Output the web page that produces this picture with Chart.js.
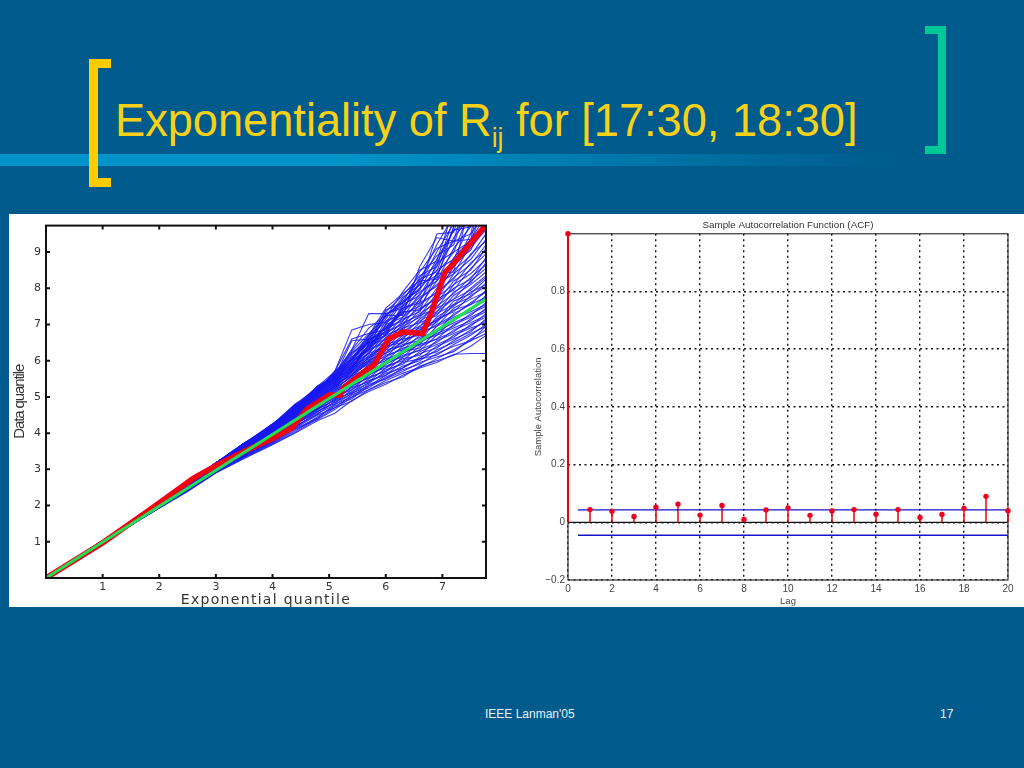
<!DOCTYPE html>
<html>
<head>
<meta charset="utf-8">
<script src="https://cdn.jsdelivr.net/npm/chart.js@4"></script>
<style>
  html, body { margin: 0; padding: 0; }
  body { width: 1024px; height: 768px; background: #005b8d; position: relative; overflow: hidden; font-family: "Liberation Sans", Arial, sans-serif; }
  .abs { position: absolute; }
  #stripe { left: 0; top: 154px; width: 900px; height: 12px; background: linear-gradient(to right, #0096cc 0%, #0096cc 35%, #005b8d 100%); }
  #panel { left: 9px; top: 214px; width: 1015px; height: 393px; background: #fff; }
  #title { left: 115px; top: 93px; color: #f7d117; font-size: 46px; white-space: nowrap; transform-origin: left top; transform: scaleX(0.982); }
  #title sub { font-size: 27px; vertical-align: -11px; line-height: 0; }
  .foot { color: #e8f0f5; font-size: 12px; top: 707px; }
  canvas { position: absolute; }
</style>
</head>
<body>
<div class="abs" id="stripe"></div>
<div class="abs" style="left:89px;top:59px;width:9px;height:128px;background:#ffcc00"></div>
<div class="abs" style="left:89px;top:59px;width:22px;height:9px;background:#ffcc00"></div>
<div class="abs" style="left:89px;top:178px;width:22px;height:9px;background:#ffcc00"></div>
<div class="abs" style="left:938px;top:26px;width:8px;height:128px;background:#00c896"></div>
<div class="abs" style="left:925px;top:26px;width:21px;height:8px;background:#00c896"></div>
<div class="abs" style="left:925px;top:146px;width:21px;height:8px;background:#00c896"></div>
<div class="abs" id="title">Exponentiality of R<sub>ij</sub> for [17:30, 18:30]</div>
<div class="abs" id="panel"></div>
<canvas id="qqChart" width="491" height="395" style="left:9px;top:214px"></canvas>
<canvas id="acfChart" width="524" height="393" style="left:500px;top:214px"></canvas>
<div class="abs foot" style="left:485px">IEEE Lanman'05</div>
<div class="abs foot" style="left:940px">17</div>

<script>
// left plot
const quantiles = [0, 1, 2, 2.5, 3, 3.5, 4, 4.4, 4.8, 5.1, 5.4, 5.7, 6, 6.3, 6.6, 6.9, 7.2, 7.5, 7.77];
const blueRuns = [
  [0,.98,1.93,2.39,2.9,3.3,3.68,4.0,4.35,4.55,4.9,5.15,5.35,5.6,5.8,5.95,6.18,6.2,6.2],
  [0,.98,1.93,2.4,2.91,3.32,3.7,4.02,4.4,4.7,4.88,5.2,5.4,5.55,5.85,6.0,6.15,6.4,6.7],
  [0,.99,1.94,2.41,2.92,3.34,3.74,4.1,4.38,4.65,5.0,5.2,5.45,5.65,5.82,6.05,6.3,6.55,6.75],
  [0,.99,1.94,2.41,2.93,3.35,3.72,4.06,4.45,4.75,4.95,5.3,5.5,5.7,5.95,6.1,6.25,6.6,6.85],
  [0,.99,1.95,2.42,2.93,3.36,3.76,4.14,4.5,4.7,5.05,5.25,5.55,5.75,5.9,6.2,6.4,6.55,6.95],
  [0,.99,1.95,2.42,2.94,3.38,3.78,4.12,4.42,4.8,5.0,5.35,5.5,5.8,6.05,6.15,6.45,6.7,7.0],
  [0,1,1.95,2.43,2.94,3.37,3.8,4.18,4.55,4.78,5.1,5.3,5.6,5.85,6.0,6.3,6.5,6.75,6.95],
  [0,1,1.96,2.43,2.95,3.4,3.78,4.15,4.6,4.85,5.08,5.4,5.65,5.8,6.1,6.25,6.55,6.85,7.1],
  [0,1,1.96,2.44,2.95,3.42,3.84,4.2,4.52,4.88,5.15,5.38,5.7,5.95,6.05,6.4,6.6,6.8,7.15],
  [0,1,1.96,2.44,2.96,3.41,3.82,4.24,4.62,4.82,5.2,5.45,5.6,5.98,6.2,6.35,6.7,6.9,7.05],
  [0,1,1.97,2.45,2.97,3.44,3.86,4.22,4.65,4.92,5.12,5.5,5.75,5.9,6.25,6.45,6.65,7.0,7.2],
  [0,1,1.97,2.45,2.97,3.43,3.88,4.26,4.58,4.95,5.25,5.42,5.8,6.05,6.15,6.55,6.75,6.95,7.3],
  [0,1,1.98,2.46,2.98,3.46,3.85,4.28,4.68,4.9,5.28,5.55,5.7,6.1,6.3,6.5,6.85,7.05,7.25],
  [0,1,1.98,2.47,2.98,3.45,3.9,4.25,4.7,5.0,5.2,5.6,5.85,6.0,6.4,6.6,6.8,7.15,7.35],
  [0,1,1.99,2.48,2.99,3.47,3.92,4.3,4.66,5.02,5.32,5.52,5.9,6.15,6.28,6.7,6.9,7.1,7.45],
  [0,1,2,2.5,3,3.46,3.9,4.34,4.72,4.96,5.35,5.65,5.8,6.2,6.45,6.6,7.0,7.2,7.4],
  [0,1,2,2.5,3,3.48,3.94,4.32,4.75,5.05,5.3,5.7,5.95,6.1,6.5,6.75,6.95,7.3,7.5],
  [0,1,2,2.5,3,3.5,3.96,4.36,4.7,5.08,5.4,5.6,6.0,6.25,6.35,6.8,7.05,7.25,7.6],
  [0,1,2,2.5,3.01,3.49,3.98,4.38,4.78,5.0,5.42,5.75,5.9,6.3,6.55,6.7,7.15,7.35,7.55],
  [0,1,2,2.51,3.01,3.5,3.95,4.4,4.8,5.1,5.35,5.8,6.05,6.2,6.6,6.85,7.1,7.45,7.7],
  [0,1,2,2.51,3.01,3.52,4.0,4.38,4.82,5.14,5.45,5.68,6.1,6.35,6.45,6.95,7.2,7.4,7.8],
  [0,1,2,2.51,3.02,3.51,3.98,4.42,4.76,5.16,5.5,5.82,6.0,6.4,6.65,6.8,7.3,7.55,7.75],
  [0,1.01,2,2.51,3.02,3.53,4.02,4.44,4.85,5.1,5.52,5.85,6.15,6.3,6.7,7.0,7.25,7.6,7.9],
  [0,1.01,2.01,2.52,3.02,3.54,4.0,4.46,4.88,5.2,5.45,5.9,6.2,6.45,6.55,7.1,7.4,7.55,7.95],
  [0,1.01,2.01,2.52,3.03,3.55,4.04,4.44,4.84,5.22,5.58,5.8,6.25,6.5,6.8,6.95,7.45,7.7,7.9],
  [0,1.01,2.01,2.52,3.03,3.54,4.06,4.48,4.9,5.18,5.6,5.95,6.1,6.55,6.75,7.15,7.35,7.8,8.05],
  [0,1.01,2.01,2.52,3.03,3.56,4.03,4.5,4.92,5.25,5.55,5.98,6.3,6.4,6.85,7.05,7.55,7.75,8.15],
  [0,1.01,2.01,2.53,3.04,3.57,4.08,4.48,4.86,5.28,5.65,5.9,6.35,6.6,6.7,7.2,7.5,7.9,8.1],
  [0,1.01,2.02,2.53,3.04,3.56,4.06,4.52,4.95,5.3,5.62,6.02,6.2,6.65,6.9,7.1,7.65,7.85,8.25],
  [0,1.01,2.02,2.53,3.05,3.58,4.1,4.54,4.98,5.24,5.7,5.95,6.4,6.5,6.95,7.3,7.55,8.0,8.35],
  [0,1.01,2.02,2.53,3.05,3.6,4.08,4.5,4.94,5.32,5.68,6.08,6.3,6.7,6.85,7.35,7.7,7.95,8.3],
  [0,1.01,2.02,2.54,3.05,3.58,4.12,4.56,5.0,5.35,5.6,6.1,6.45,6.6,7.05,7.25,7.8,8.1,8.45],
  [0,1.02,2.02,2.54,3.06,3.6,4.1,4.58,5.02,5.28,5.75,6.0,6.5,6.75,6.95,7.45,7.7,8.2,8.55],
  [0,1.02,2.02,2.54,3.06,3.62,4.14,4.55,4.98,5.38,5.72,6.15,6.35,6.8,7.1,7.35,7.9,8.15,8.7],
  [0,1.02,2.03,2.54,3.07,3.61,4.12,4.6,5.05,5.4,5.8,6.05,6.55,6.7,7.15,7.5,7.85,8.3,8.65],
  [0,1.02,2.03,2.55,3.07,3.63,4.16,4.62,5.08,5.34,5.78,6.2,6.4,6.9,7.05,7.6,8.0,8.25,8.85],
  [0,1.02,2.03,2.55,3.08,3.62,4.14,4.58,5.1,5.42,5.7,6.25,6.6,6.85,7.25,7.45,8.1,8.4,8.8],
  [0,1.02,2.03,2.55,3.08,3.64,4.18,4.64,5.06,5.45,5.85,6.1,6.65,6.95,7.2,7.7,7.95,8.55,8.95],
  [0,1.02,2.03,2.55,3.09,3.65,4.16,4.66,5.12,5.38,5.88,6.3,6.5,7.0,7.3,7.6,8.2,8.5,9.1],
  [0,1.02,2.03,2.56,3.09,3.64,4.2,4.62,5.14,5.5,5.8,6.35,6.7,6.9,7.4,7.75,8.1,8.7,9.05],
  [0,1.02,2.04,2.56,3.1,3.66,4.18,4.68,5.1,5.52,5.92,6.2,6.75,7.05,7.25,7.85,8.3,8.65,9.2],
  [0,1.02,2.04,2.56,3.1,3.67,4.22,4.7,5.16,5.46,5.95,6.4,6.6,7.1,7.45,7.7,8.4,8.8,9.35],
  [0,1.02,2.04,2.56,3.11,3.66,4.2,4.65,5.18,5.55,5.85,6.45,6.8,7.0,7.55,7.9,8.25,8.95,9.3],
  [0,1.03,2.04,2.57,3.11,3.68,4.22,4.72,5.2,5.58,6.0,6.3,6.85,7.15,7.35,8.0,8.5,8.9,9.5],
  [0,1.03,2.04,2.57,3.12,3.69,4.24,4.74,5.15,5.6,6.02,6.5,6.7,7.2,7.6,7.85,8.6,9.1,9.65],
  [0,1.03,2.04,2.57,3.12,3.68,4.23,4.7,5.22,5.5,6.05,6.55,6.9,7.1,7.7,8.1,8.4,9.2,9.6],
  [0,1.03,2.05,2.57,3.13,3.7,4.05,4.5,5.05,5.35,5.8,6.4,6.95,7.3,7.5,8.2,8.7,9.05,9.9],
  [0,1.03,2.05,2.58,3.13,3.71,4.15,4.55,5.1,5.5,5.75,6.6,6.8,7.35,7.75,8.05,8.85,9.35,10],
  [0,1.03,2.05,2.58,3.14,3.6,4.2,4.62,4.95,5.56,5.9,6.3,7.0,7.2,7.85,8.3,8.6,9.5,10.1],
  [0,1.03,2.05,2.58,3.14,3.72,4.1,4.68,5.2,5.4,6.05,6.5,6.9,7.45,7.65,8.4,9.0,9.3,10.4],
  [0,1.03,2.05,2.58,3.15,3.55,4.25,4.45,5.15,5.6,5.7,6.45,6.7,7.5,7.9,8.2,9.1,9.7,10.6],
  [0,1.03,2.05,2.58,3.15,3.65,4.0,4.72,5.0,5.3,6.1,6.3,7.1,7.3,8.0,8.5,8.8,9.8,10.9],
  [0,1.03,2.05,2.58,3.16,3.72,4.2,4.6,5.28,5.45,5.95,6.6,6.75,7.55,7.8,8.6,9.3,9.5,11.2],
  [0,1.03,2.05,2.58,3.16,3.62,4.12,4.75,5.05,5.65,5.85,6.2,7.0,7.6,8.1,8.35,9.4,10,11.5],
  [0,1.03,2.05,2.58,3.17,3.7,4.25,4.5,5.25,5.4,6.1,6.55,6.9,7.4,8.15,8.7,9.0,10.2,12],
  [0,1.03,2.05,2.58,3.17,3.58,4.08,4.68,5.1,5.62,5.8,6.45,7.25,7.65,7.95,8.8,9.6,9.85,12.5],
  [0,1.03,2.05,2.58,3.18,3.68,4.22,4.6,5.3,5.45,6.15,6.7,7.05,7.7,8.25,8.45,9.7,10.4,13],
  [0,1.03,2.05,2.58,3.18,3.72,4.15,4.78,5.12,5.7,5.95,6.35,7.3,7.5,8.3,8.9,9.2,10.6,13.5],
  [0,1.03,2.05,2.58,3.18,3.64,4.25,4.55,5.22,5.5,6.2,6.6,7.15,7.75,8.1,9.0,9.8,10.1,14],
  [0,1.03,2.05,2.58,3.18,3.7,4.18,4.72,5.05,5.68,6.0,6.65,7.35,7.8,8.35,8.6,9.9,10.8,14.5],
  [0,1.03,2.05,2.58,3.18,3.6,4.1,4.65,5.3,5.55,6.22,6.5,7.4,7.6,8.45,9.1,9.3,11,15],
  [0,1.03,2.05,2.58,3.18,3.72,4.22,4.8,5.15,5.72,6.05,6.7,7.45,7.85,8.2,9.2,10,10.3,15.5],
  [0,1.03,2.05,2.58,3.18,3.66,4.25,4.58,5.25,5.6,6.25,6.75,7.2,7.9,8.5,8.75,10.2,11.2,16],
  [0,1.03,2.05,2.58,3.18,3.72,4.15,4.7,5.2,5.6,6.3,6.9,7.25,7.25,8.6,9.4,9.3,9.35,11],
  [0,1.03,2.05,2.58,3.18,3.7,4.2,4.75,5.3,5.7,6.85,7.0,7.05,7.35,7.4,8.4,8.45,10.5,12.5],
  [0,1.03,2.05,2.58,3.18,3.72,4.25,4.8,5.25,5.65,6.3,7.3,7.3,7.45,7.6,8.7,9.6,9.7,12],
  [0,1.03,2.05,2.58,3.18,3.68,4.25,4.7,5.3,5.55,6.55,6.6,7.25,7.6,8.0,9.5,9.55,11,13],
  [0,1.03,2.05,2.58,3.18,3.72,4.2,4.78,5.2,5.7,6.6,6.75,6.85,7.4,8.2,8.25,9.7,12,14]
];
const redRunX = [0, 1, 1.8, 2.2, 2.6, 3, 3.5, 4, 4.35, 4.6, 5, 5.2, 5.25, 5.5, 5.8, 6.05, 6.3, 6.65, 6.8, 7.05, 7.15, 7.77];
const redRunY = [0, .97, 1.85, 2.3, 2.75, 3.1, 3.5, 3.85, 4.15, 4.65, 5.05, 5.05, 5.25, 5.55, 5.9, 6.6, 6.8, 6.75, 7.3, 8.45, 8.6, 9.75];
const fitX = [0, 7.77];
const fitY = [0, 7.7];
const qqTicksX = [1, 2, 3, 4, 5, 6, 7];
const qqTicksY = [1, 2, 3, 4, 5, 6, 7, 8, 9];

// right plot
const lags = [0, 1, 2, 3, 4, 5, 6, 7, 8, 9, 10, 11, 12, 13, 14, 15, 16, 17, 18, 19, 20];
const acf = [1, .044, .038, .02, .052, .063, .025, .058, .01, .043, .05, .024, .039, .044, .028, .044, .017, .027, .048, .09, .04];
const boundX = [0.45, 20];
const upperBound = [.043, .043];
const lowerBound = [-.045, -.045];
const acfTicksX = [0, 2, 4, 6, 8, 10, 12, 14, 16, 18, 20];
const acfTicksY = [-0.2, 0, 0.2, 0.4, 0.6, 0.8];

const toPoints = (xs, ys) => xs.map((x, i) => ({ x: x, y: ys[i] }));

const qqDatasets = blueRuns.map((run) => ({
  data: toPoints(quantiles, run),
  borderColor: 'rgba(25,25,240,0.85)',
  borderWidth: 1.1,
  pointRadius: 0,
  order: 3
}));
qqDatasets.push({ data: toPoints(redRunX, redRunY), borderColor: '#f00010', borderWidth: 5.5, pointRadius: 0, order: 2 });
qqDatasets.push({ data: toPoints(fitX, fitY), borderColor: '#22dd55', borderWidth: 3, pointRadius: 0, order: 1 });

// the scanned axis titles are stretched, so space the letters to fit
const spaceTitle = (scale, px) => {
  const drawTitle = scale.drawTitle;
  scale.drawTitle = function () {
    this.ctx.letterSpacing = px;
    drawTitle.call(this);
    this.ctx.letterSpacing = '0px';
  };
};

// frame plus the small inward ticks of the old matlab plot
const qqFrame = {
  id: 'qqFrame',
  afterDatasetsDraw(chart) {
    const { ctx, chartArea: a, scales } = chart;
    ctx.save();
    ctx.strokeStyle = '#111';
    ctx.lineWidth = 2;
    ctx.strokeRect(a.left, a.top, a.right - a.left, a.bottom - a.top);
    ctx.beginPath();
    qqTicksX.forEach((v) => {
      const px = scales.x.getPixelForValue(v);
      ctx.moveTo(px, a.top); ctx.lineTo(px, a.top + 4);
      ctx.moveTo(px, a.bottom); ctx.lineTo(px, a.bottom - 4);
    });
    qqTicksY.forEach((v) => {
      const py = scales.y.getPixelForValue(v);
      ctx.moveTo(a.left, py); ctx.lineTo(a.left + 4, py);
      ctx.moveTo(a.right, py); ctx.lineTo(a.right - 4, py);
    });
    ctx.stroke();
    ctx.restore();
  }
};

const acfFrame = {
  id: 'acfFrame',
  beforeDatasetsDraw(chart) {
    const { ctx, chartArea: a } = chart;
    ctx.save();
    ctx.strokeStyle = '#333';
    ctx.lineWidth = 1.2;
    ctx.strokeRect(a.left, a.top, a.right - a.left, a.bottom - a.top);
    ctx.restore();
  }
};

const generateQQChart = () => {
  const ctx = document.getElementById('qqChart');
  const chart = new Chart(ctx, {
    type: 'line',
    data: { datasets: qqDatasets },
    plugins: [qqFrame],
    options: {
      responsive: false,
      animation: false,
      devicePixelRatio: 1,
      layout: { padding: { top: 9, right: 14 } },
      elements: { line: { tension: 0 } },
      plugins: { legend: { display: false }, tooltip: { enabled: false } },
      scales: {
        x: {
          type: 'linear', min: 0, max: 7.77,
          afterBuildTicks: (s) => { s.ticks = qqTicksX.map((v) => ({ value: v })); },
          afterFit: (s) => { s.height = 31; },
          grid: { display: false, drawTicks: false },
          border: { display: false },
          ticks: { color: '#333', font: { family: 'DejaVu Sans', size: 11 }, padding: 3, maxRotation: 0, autoSkip: false },
          title: { display: true, text: 'Exponential quantile', color: '#333', font: { family: 'DejaVu Sans', size: 14 }, padding: 0 }
        },
        y: {
          type: 'linear', min: 0, max: 9.73,
          afterBuildTicks: (s) => { s.ticks = qqTicksY.map((v) => ({ value: v })); },
          afterFit: (s) => { s.width = 37; },
          grid: { display: false, drawTicks: false },
          border: { display: false },
          ticks: { color: '#333', font: { family: 'DejaVu Sans', size: 11 }, padding: 5, autoSkip: false },
          title: { display: true, text: 'Data quantile', color: '#333', font: { family: 'Liberation Sans', size: 15 }, padding: { top: 2, bottom: 0 } }
        }
      }
    }
  });
  spaceTitle(chart.scales.x, '1.3px');
  spaceTitle(chart.scales.y, '-1.1px');
  chart.draw();
  return chart;
};

const generateAcfChart = () => {
  const ctx = document.getElementById('acfChart');
  const stems = lags.map((lag, i) => ({
    data: [{ x: lag, y: 0 }, { x: lag, y: acf[i] }],
    borderColor: '#e8000c',
    borderWidth: lag === 0 ? 2 : 1.5,
    pointRadius: 0,
    clip: false,
    order: 3
  }));
  return new Chart(ctx, {
    type: 'line',
    data: {
      datasets: [
        { data: toPoints([0, 20], [0, 0]), borderColor: '#111', borderWidth: 1.3, pointRadius: 0, order: 4 },
        ...stems,
        { data: toPoints(boundX, upperBound), borderColor: '#1414c8', borderWidth: 1.4, pointRadius: 0, order: 2 },
        { data: toPoints(boundX, lowerBound), borderColor: '#1414c8', borderWidth: 1.4, pointRadius: 0, order: 2 },
        { data: toPoints(lags, acf), showLine: false, pointRadius: 2.7, pointBackgroundColor: '#f00020', pointBorderWidth: 0, clip: false, order: 1 }
      ]
    },
    plugins: [acfFrame],
    options: {
      responsive: false,
      animation: false,
      devicePixelRatio: 1,
      layout: { padding: { top: 3, right: 16 } },
      elements: { line: { tension: 0 } },
      plugins: {
        legend: { display: false },
        tooltip: { enabled: false },
        title: {
          display: true,
          fullSize: false,
          text: 'Sample Autocorrelation Function (ACF)',
          color: '#333',
          font: { family: 'Liberation Sans', size: 9.8, weight: 'normal' },
          padding: { top: 2, bottom: 3 }
        }
      },
      scales: {
        x: {
          type: 'linear', min: 0, max: 20,
          afterBuildTicks: (s) => { s.ticks = acfTicksX.map((v) => ({ value: v })); },
          afterFit: (s) => { s.height = 27; },
          grid: { color: '#111', lineWidth: 1.4, drawTicks: false },
          border: { display: false, dash: [2, 3.5] },
          ticks: { color: '#444', font: { family: 'Liberation Sans', size: 10 }, padding: 3, maxRotation: 0, autoSkip: false },
          title: { display: true, text: 'Lag', color: '#444', font: { family: 'Liberation Sans', size: 9.5 }, padding: 0 }
        },
        y: {
          type: 'linear', min: -0.2, max: 1,
          afterBuildTicks: (s) => { s.ticks = acfTicksY.map((v) => ({ value: v })); },
          afterFit: (s) => { s.width = 68; },
          grid: { color: '#111', lineWidth: 1.4, drawTicks: false },
          border: { display: false, dash: [2, 3.5] },
          ticks: {
            color: '#444',
            font: { family: 'Liberation Sans', size: 10 },
            padding: 3,
            autoSkip: false,
            callback: (v) => (v === 0 ? '0' : v.toFixed(1).replace('-', '\u2212'))
          },
          title: { display: true, text: 'Sample Autocorrelation', color: '#444', font: { family: 'Liberation Sans', size: 9.5 }, padding: { top: 33, bottom: 0 } }
        }
      }
    }
  });
};

generateQQChart();
generateAcfChart();
</script>
</body>
</html>
